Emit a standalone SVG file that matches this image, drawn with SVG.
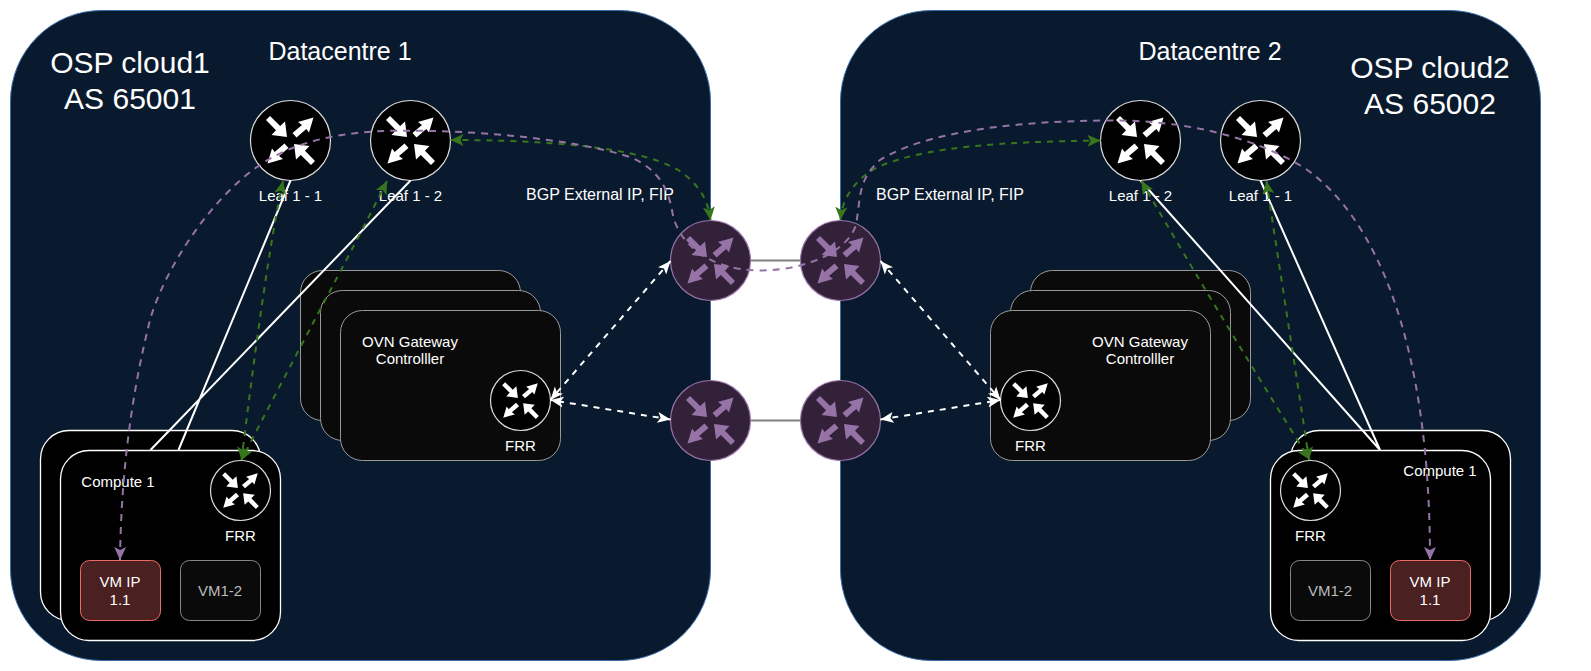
<svg xmlns="http://www.w3.org/2000/svg" xmlns:xlink="http://www.w3.org/1999/xlink" width="1591" height="671" viewBox="0 0 1591 671">
<style>
text{font-family:"Liberation Sans",Arial,sans-serif;fill:#fff;text-anchor:middle}
.cloud{fill:#0a1a2e;stroke:#3a6ea8;stroke-width:1}
.big{font-size:30px}.dc{font-size:25px}.lbl{font-size:15px}.bgp{font-size:16px}
.box{fill:#000;stroke:#fff;stroke-width:1.300}
.ovn{fill:#0a0a0a;stroke:#999;stroke-width:1}
.rt{fill:#000;stroke:#ddd;stroke-width:1.200}
.rp{fill:#322138;stroke:#9673a6;stroke-width:1.200}
.vmr{fill:#4a2020;stroke:#ea6b66;stroke-width:1}
.vmg{fill:#0a0a0a;stroke:#888;stroke-width:1}
.grey{fill:#bbb}
.conn{fill:none}
.sw{stroke:#fff;stroke-width:2}
.wd{stroke:#fff;stroke-width:2;stroke-dasharray:6 6;marker-start:url(#mw);marker-end:url(#mw)}
.gd{stroke:#38761d;stroke-width:2;stroke-dasharray:6 6;marker-start:url(#mg);marker-end:url(#mg)}
.pd{stroke:#9673a6;stroke-width:2;stroke-dasharray:7 6;marker-start:url(#mp);marker-end:url(#mp)}
.gl{stroke:#808080;stroke-width:2}
</style>
<defs>
<marker id="mw" markerUnits="userSpaceOnUse" markerWidth="14" markerHeight="12" refX="13" refY="6" orient="auto-start-reverse"><path d="M13,6L0,0.500L3,6L0,11.500Z" fill="#fff"/></marker>
<marker id="mg" markerUnits="userSpaceOnUse" markerWidth="14" markerHeight="14" refX="13" refY="7" orient="auto-start-reverse"><path d="M13,7L0,1L3,7L0,13Z" fill="#38761d"/></marker>
<marker id="mp" markerUnits="userSpaceOnUse" markerWidth="14" markerHeight="14" refX="13" refY="7" orient="auto-start-reverse"><path d="M13,7L0,1L3,7L0,13Z" fill="#9673a6"/></marker>
<g id="ra" stroke="none">
<path d="M-24.500-20.500L-20.500-24.500L-10.300-14.500L-5.500-19L-3.500-3.500L-19-5.500L-14.500-10.300Z"/>
<path d="M2-7.500L6-3L15.800-11.500L18.500-8L23-23L7.500-18.500L11.500-15.500Z"/>
<path d="M-2 7.500L-6 3L-15.800 11.500L-18.500 8L-23 23L-7.500 18.500L-11.500 15.500Z"/>
<path d="M24.500 20.500L20.500 24.500L10.300 14.500L5.500 19L3.500 3.500L19 5.500L14.500 10.300Z"/>
</g>
</defs>
<g id="cloud1"><rect class="cloud" x="10.500" y="10.500" width="700" height="650" rx="91"/>
<text class="big" x="130" y="73">OSP cloud1</text><text class="big" x="130" y="109">AS 65001</text><text class="dc" x="340" y="60">Datacentre 1</text></g>
<g id="cloud2"><rect class="cloud" x="840.500" y="10.500" width="700" height="650" rx="91"/>
<text class="big" x="1430" y="78">OSP cloud2</text><text class="big" x="1430" y="114">AS 65002</text><text class="dc" x="1210" y="60">Datacentre 2</text></g>
<g id="bgp1"><text class="bgp" x="600" y="200">BGP External IP, FIP</text></g>
<g id="bgp2"><text class="bgp" x="950" y="200">BGP External IP, FIP</text></g>
<g id="ovn1">
<rect class="ovn" x="300.500" y="270.500" width="220" height="150" rx="22"/>
<rect class="ovn" x="320.500" y="290.500" width="220" height="150" rx="22"/>
<rect class="ovn" x="340.500" y="310.500" width="220" height="150" rx="22"/>
<text class="lbl" x="410" y="347">OVN Gateway</text><text class="lbl" x="410" y="364">Controlller</text>
<circle class="rt" cx="520.500" cy="400.500" r="30"/><use xlink:href="#ra" href="#ra" fill="#fff" transform="translate(520.500 400.500) scale(.75)"/>
<text class="lbl" x="520.500" y="451">FRR</text></g>
<g id="ovn2">
<rect class="ovn" x="1030.500" y="270.500" width="220" height="150" rx="22"/>
<rect class="ovn" x="1010.500" y="290.500" width="220" height="150" rx="22"/>
<rect class="ovn" x="990.500" y="310.500" width="220" height="150" rx="22"/>
<text class="lbl" x="1140" y="347">OVN Gateway</text><text class="lbl" x="1140" y="364">Controlller</text>
<circle class="rt" cx="1030.500" cy="400.500" r="30"/><use xlink:href="#ra" href="#ra" fill="#fff" transform="translate(1030.500 400.500) scale(.75)"/>
<text class="lbl" x="1030.500" y="451">FRR</text></g>
<g id="compute1">
<rect class="box" x="40.500" y="430.500" width="220" height="190" rx="28.500"/>
<rect class="box" x="60.500" y="450.500" width="220" height="190" rx="28.500"/>
<text class="lbl" x="118" y="487">Compute 1</text>
<circle class="rt" cx="240.500" cy="490.500" r="30"/><use xlink:href="#ra" href="#ra" fill="#fff" transform="translate(240.500 490.500) scale(.75)"/>
<text class="lbl" x="240.500" y="541">FRR</text>
<rect class="vmr" x="80.500" y="560.500" width="80" height="60" rx="9"/><text class="lbl" x="120" y="587">VM IP</text><text class="lbl" x="120" y="605">1.1</text>
<rect class="vmg" x="180.500" y="560.500" width="80" height="60" rx="9"/><text class="lbl grey" x="220" y="596">VM1-2</text></g>
<g id="compute2">
<rect class="box" x="1290.500" y="430.500" width="220" height="190" rx="28.500"/>
<rect class="box" x="1270.500" y="450.500" width="220" height="190" rx="28.500"/>
<text class="lbl" x="1440" y="476">Compute 1</text>
<circle class="rt" cx="1310.500" cy="490.500" r="30"/><use xlink:href="#ra" href="#ra" fill="#fff" transform="translate(1310.500 490.500) scale(.75)"/>
<text class="lbl" x="1310.500" y="541">FRR</text>
<rect class="vmg" x="1290.500" y="560.500" width="80" height="60" rx="9"/><text class="lbl grey" x="1330" y="596">VM1-2</text>
<rect class="vmr" x="1390.500" y="560.500" width="80" height="60" rx="9"/><text class="lbl" x="1430" y="587">VM IP</text><text class="lbl" x="1430" y="605">1.1</text></g>
<g id="leaf1-1"><circle class="rt" cx="290.500" cy="140.500" r="40"/><use xlink:href="#ra" href="#ra" fill="#fff" transform="translate(290.500 140.500)"/><text class="lbl" x="290.500" y="201">Leaf 1 - 1</text></g>
<g id="leaf1-2"><circle class="rt" cx="410.500" cy="140.500" r="40"/><use xlink:href="#ra" href="#ra" fill="#fff" transform="translate(410.500 140.500)"/><text class="lbl" x="410.500" y="201">Leaf 1 - 2</text></g>
<g id="leaf2-2"><circle class="rt" cx="1140.500" cy="140.500" r="40"/><use xlink:href="#ra" href="#ra" fill="#fff" transform="translate(1140.500 140.500)"/><text class="lbl" x="1140.500" y="201">Leaf 1 - 2</text></g>
<g id="leaf2-1"><circle class="rt" cx="1260.500" cy="140.500" r="40"/><use xlink:href="#ra" href="#ra" fill="#fff" transform="translate(1260.500 140.500)"/><text class="lbl" x="1260.500" y="201">Leaf 1 - 1</text></g>
<g id="r1"><circle class="rp" cx="710.500" cy="260.500" r="40"/><use xlink:href="#ra" href="#ra" fill="#9673a6" transform="translate(710.500 260.500)"/></g>
<g id="r2"><circle class="rp" cx="840.500" cy="260.500" r="40"/><use xlink:href="#ra" href="#ra" fill="#9673a6" transform="translate(840.500 260.500)"/></g>
<g id="r3"><circle class="rp" cx="710.500" cy="420.500" r="40"/><use xlink:href="#ra" href="#ra" fill="#9673a6" transform="translate(710.500 420.500)"/></g>
<g id="r4"><circle class="rp" cx="840.500" cy="420.500" r="40"/><use xlink:href="#ra" href="#ra" fill="#9673a6" transform="translate(840.500 420.500)"/></g>
<g id="connectors" class="conn">
<path class="gl" d="M750.500 260.500H800.500M750.500 420.500H800.500"/>
<path class="sw" d="M290.500 180.500L178.500 450M410.500 180.500L150.500 450M1140.500 180.500L1380 450M1260.500 180.500L1380 450"/>
<path class="gd" d="M283 181C270 240 255 350 241.500 460"/>
<path class="gd" d="M387 181C350 255 290 365 241.500 460"/>
<path class="gd" d="M1141.500 181C1175 240 1250 365 1310 460"/>
<path class="gd" d="M1266.500 181C1275 240 1295 365 1309 460"/>
<path class="gd" d="M450.500 140C530 140 650 145 685 175C700 187 708 200 710.500 220"/>
<path class="gd" d="M840.500 220C842 195 860 175 880 166C930 146 1000 142 1100.500 140.500"/>
<path class="pd" d="M120 560C121 480 130 400 150 320C165 268 210 200 257 167C295 140 345 131 400 130.700C470 130 570 138 630 157C660 170 668 190 672 210C676 240 705 270 760 270.500C810 270 848 250 856 225C861 195 858 180 880 160C920 135 1000 121 1110 120.500C1180 120 1250 135 1303 167C1375 215 1430 340 1430 560"/>
<path class="wd" d="M670.500 261L550.500 400"/>
<path class="wd" d="M670.500 419.500L550.500 400"/>
<path class="wd" d="M880.500 261L1000.500 400"/>
<path class="wd" d="M880.500 419.500L1000.500 400"/>
</g>
</svg>
